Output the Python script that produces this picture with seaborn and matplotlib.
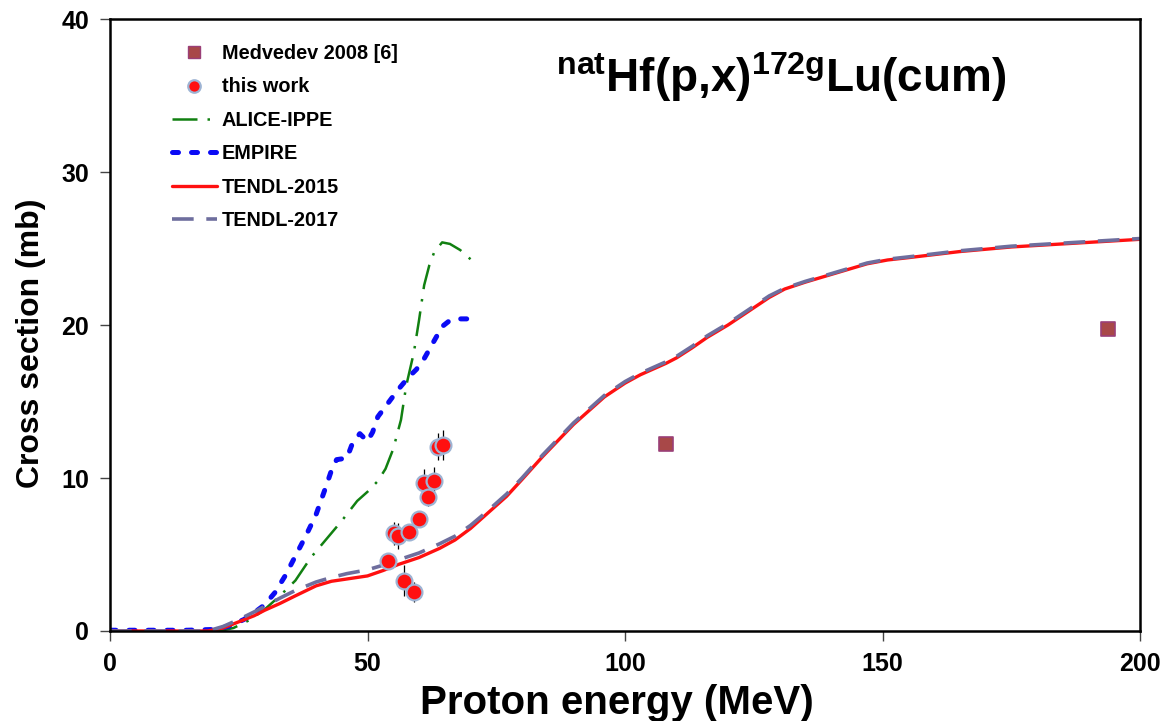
import numpy as np
import pandas as pd
import matplotlib
matplotlib.use("Agg")
import matplotlib.pyplot as plt
import seaborn as sns
from matplotlib.lines import Line2D

# ---------------- data ----------------
medvedev_E = [108.0, 193.8]
medvedev_xs = [12.22, 19.74]

work_E = [53.9, 55.1, 56.0, 57.1, 58.0, 59.0, 60.0, 61.0, 61.8, 62.9, 63.7, 64.7]
work_xs = [4.58, 6.39, 6.21, 3.29, 6.45, 2.55, 7.30, 9.65, 8.74, 9.80, 12.05, 12.16]
work_err = [0.4, 0.75, 0.85, 1.0, 0.3, 0.65, 0.3, 0.95, 0.6, 0.93, 0.9, 1.0]

alice_E = [20, 22, 24, 27, 30, 33, 36, 39, 42, 45, 48, 50, 52, 53.5, 55, 56.5, 57.5, 59, 60, 61, 62, 63, 64.5, 66, 68, 70]
alice_xs = [0.0, 0.05, 0.2, 0.7, 1.4, 2.3, 3.3, 4.8, 6.0, 7.2, 8.5, 9.1, 9.8, 10.6, 11.9, 13.8, 16.0, 18.2, 20.3, 22.6, 23.9, 24.8, 25.4, 25.3, 24.9, 24.3]

empire_E = [0, 5, 10, 15, 20, 23, 26, 28, 30, 32, 34, 36, 38, 40, 42, 43, 44, 46, 47, 48.5, 50, 51, 52, 54, 56, 58, 59.5, 61, 63, 64.5, 66, 68, 70]
empire_xs = [0.05, 0.05, 0.05, 0.05, 0.1, 0.3, 0.75, 1.2, 1.7, 2.5, 3.6, 4.9, 6.2, 7.6, 9.5, 10.5, 11.2, 11.3, 12.2, 12.9, 12.4, 13.0, 14.0, 14.9, 15.8, 16.6, 17.1, 17.8, 19.0, 19.9, 20.3, 20.4, 20.4]

tendl_E = [0, 5, 10, 15, 19, 22, 25, 28, 30, 33, 36, 40, 43, 46, 50, 53, 56, 60, 64, 67, 70, 73, 77, 80, 84, 90, 96, 100, 103, 106, 108, 110, 113, 116, 120, 124, 128, 131, 135, 139, 143, 147, 151, 155, 160, 165, 170, 175, 180, 185, 190, 195, 200]
tendl15_xs = [0, 0, 0, 0, 0, 0.2, 0.6, 1.0, 1.35, 1.8, 2.3, 2.95, 3.25, 3.4, 3.6, 3.95, 4.35, 4.8, 5.4, 5.95, 6.7, 7.6, 8.8, 9.9, 11.4, 13.5, 15.3, 16.2, 16.75, 17.2, 17.5, 17.85, 18.5, 19.2, 20.0, 20.9, 21.8, 22.35, 22.8, 23.2, 23.6, 24.0, 24.25, 24.4, 24.6, 24.8, 24.95, 25.1, 25.2, 25.3, 25.4, 25.5, 25.6]
tendl17_xs = [0, 0, 0, 0, 0, 0.3, 0.75, 1.25, 1.6, 2.15, 2.65, 3.2, 3.5, 3.75, 4.0, 4.3, 4.65, 5.1, 5.7, 6.2, 6.9, 7.75, 8.95, 10.0, 11.5, 13.6, 15.4, 16.3, 16.85, 17.3, 17.6, 17.95, 18.6, 19.3, 20.1, 21.0, 21.9, 22.4, 22.85, 23.25, 23.65, 24.05, 24.3, 24.45, 24.65, 24.85, 25.0, 25.15, 25.25, 25.35, 25.45, 25.55, 25.65]

x_ticks = [0, 50, 100, 150, 200]
y_ticks = [0, 10, 20, 30, 40]

# ---------------- style ----------------
sns.set_theme(style="white")
plt.rcParams['font.family'] = ['Liberation Sans', 'DejaVu Sans']
plt.rcParams['font.weight'] = 'bold'
plt.rcParams['text.color'] = 'black'
plt.rcParams['axes.labelcolor'] = 'black'
plt.rcParams['xtick.color'] = 'black'
plt.rcParams['ytick.color'] = 'black'
plt.rcParams['mathtext.fontset'] = 'custom'
plt.rcParams['mathtext.rm'] = 'Liberation Sans:bold'
plt.rcParams['mathtext.bf'] = 'Liberation Sans:bold'
plt.rcParams['mathtext.it'] = 'Liberation Sans:bold'

fig = plt.figure(figsize=(11.68, 7.21), dpi=100)
ax = fig.add_axes([110/1168, 1-631/721, 1030/1168, 612/721])

c_alice = '#118011'
c_empire = '#0B0BF5'
c_t15 = '#FF1010'
c_t17 = '#6E6E9E'

d_alice = (10, 4, 1, 4)
d_emp = (1.2, 2.6)
d_t17 = (6, 3.5)

sns.lineplot(x=alice_E, y=alice_xs, ax=ax, color=c_alice, linewidth=1.8,
             sort=False, estimator=None)
ax.lines[-1].set_dashes(d_alice)

sns.lineplot(x=empire_E, y=empire_xs, ax=ax, color=c_empire, linewidth=3.6,
             sort=False, estimator=None)
ln_emp = ax.lines[-1]
ln_emp.set_dashes(d_emp)
ln_emp.set_dash_capstyle('round')

sns.lineplot(x=tendl_E, y=tendl15_xs, ax=ax, color=c_t15, linewidth=2.4,
             sort=False, estimator=None)

sns.lineplot(x=tendl_E, y=tendl17_xs, ax=ax, color=c_t17, linewidth=2.6,
             sort=False, estimator=None)
ax.lines[-1].set_dashes(d_t17)

ax.errorbar(work_E, work_xs, yerr=work_err, fmt='none', ecolor='black',
            elinewidth=0.9, capsize=0, zorder=4)

sns.scatterplot(x=medvedev_E, y=medvedev_xs, ax=ax, marker='s', s=95,
                color='#A84848', edgecolor='#9A3F78', linewidth=1.2, zorder=5)
sns.scatterplot(x=work_E, y=work_xs, ax=ax, marker='o', s=130,
                color='#FF1010', edgecolor='#9EB4D4', linewidth=1.6, zorder=6)

ax.set_xlim(0, 200)
ax.set_ylim(0, 40)
ax.set_xticks(x_ticks)
ax.set_yticks(y_ticks)
ax.set_xticklabels([str(v) for v in x_ticks], fontsize=18, fontweight='bold')
ax.set_yticklabels([str(v) for v in y_ticks], fontsize=18, fontweight='bold')
ax.tick_params(axis='both', direction='out', length=7, width=1, color='#444444',
               labelcolor='black', bottom=True, left=True, pad=8)
for sp in ax.spines.values():
    sp.set_visible(True)
    sp.set_color('black')
    sp.set_linewidth(1.8)

ax.set_xlabel('Proton energy (MeV)', fontsize=29, fontweight='bold', va='center')
ax.set_ylabel('Cross section (mb)', fontsize=23, fontweight='bold', va='center')
ax.xaxis.set_label_coords(0.492, -0.1176)
ax.yaxis.set_label_coords(-0.0767, 0.47)
ax.grid(False)

ax.text(0.651, 0.905, r'$^{\mathbf{nat}}$Hf(p,x)$^{\mathbf{172g}}$Lu(cum)',
        transform=ax.transAxes, ha='center', va='center',
        fontsize=33, fontweight='bold')

handles = [
    Line2D([], [], linestyle='none', marker='s', markersize=8.6,
           markerfacecolor='#A84848', markeredgecolor='#9A3F78'),
    Line2D([], [], linestyle='none', marker='o', markersize=9,
           markerfacecolor='#FF1010', markeredgecolor='#9EB4D4', markeredgewidth=1.6),
    Line2D([], [], color=c_alice, linewidth=1.8, dashes=d_alice),
    Line2D([], [], color=c_empire, linewidth=3.6, dashes=d_emp,
           dash_capstyle='round'),
    Line2D([], [], color=c_t15, linewidth=2.4),
    Line2D([], [], color=c_t17, linewidth=2.6, dashes=d_t17),
]
labels = ['Medvedev 2008 [6]', 'this work', 'ALICE-IPPE', 'EMPIRE',
          'TENDL-2015', 'TENDL-2017']
leg = ax.legend(handles, labels, loc='upper left',
                bbox_to_anchor=(0.060, 0.959), frameon=False,
                fontsize=14.3, handlelength=2.27, handletextpad=0.25,
                labelspacing=0.725, borderpad=0, borderaxespad=0)
for t in leg.get_texts():
    t.set_fontweight('bold')
    t.set_color('black')

fig.savefig('out.png', dpi=100)
